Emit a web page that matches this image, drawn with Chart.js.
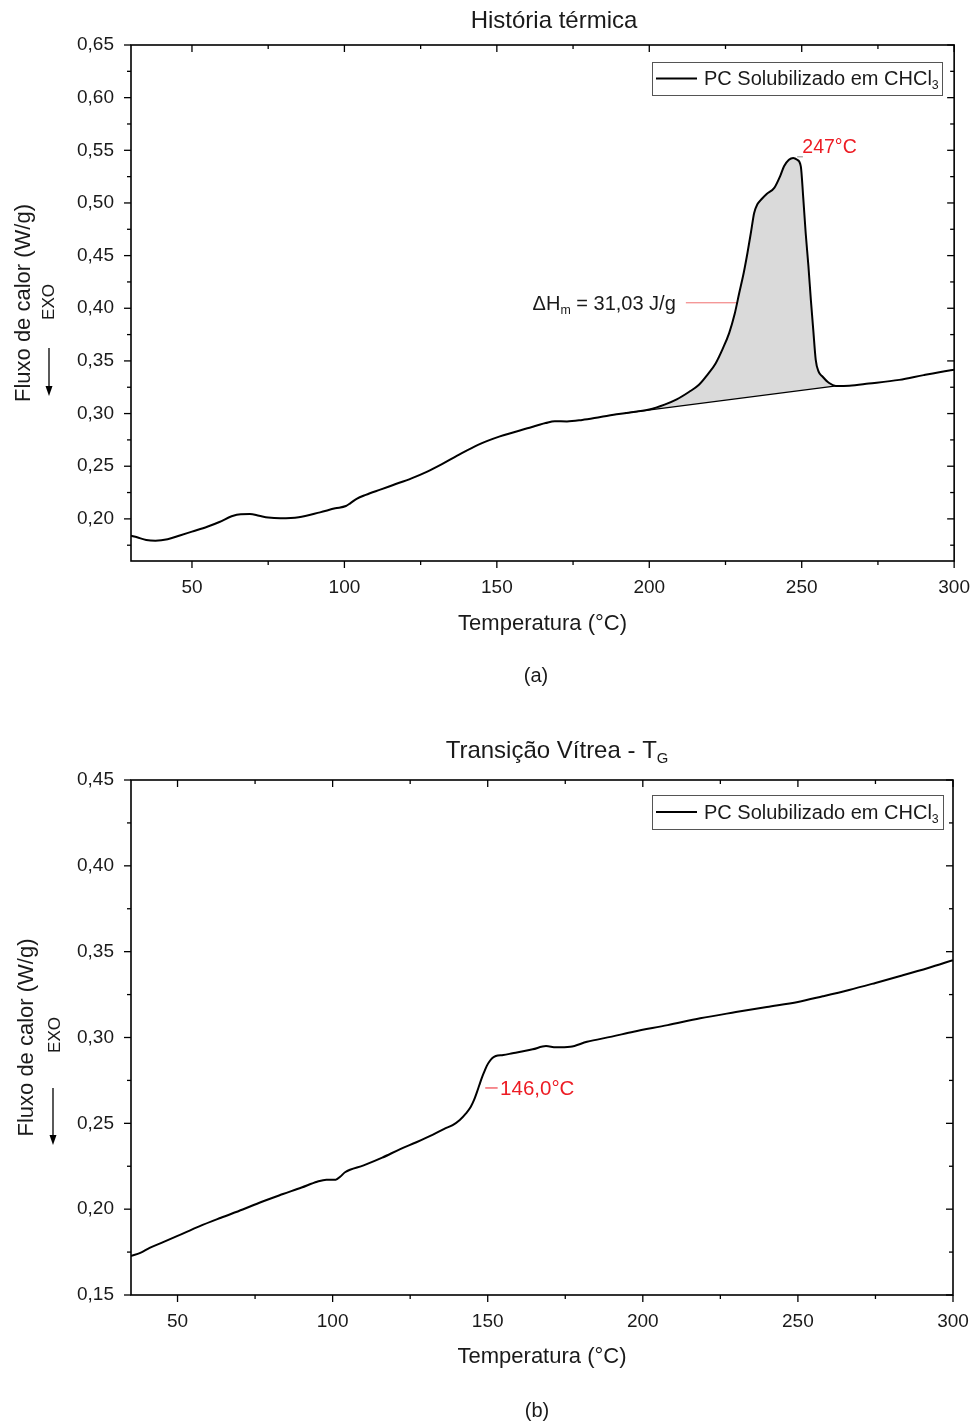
<!DOCTYPE html>
<html><head><meta charset="utf-8">
<script src="https://cdn.jsdelivr.net/npm/chart.js@4.4.0/dist/chart.umd.min.js"></script>
<style>
html,body{margin:0;padding:0;background:#fff;}
#wrap{position:relative;width:977px;height:1425px;background:#fff;}
canvas{position:absolute;left:0;}
</style></head><body>
<div id="wrap">
<canvas id="c1" width="977" height="700" style="top:0"></canvas>
<canvas id="c2" width="977" height="725" style="top:700px"></canvas>
</div>
<script>
// ---------------- DATA: (a) História térmica ----------------
const tempA = [30,32,35,38,42,46,50,55,59,63,66,69,72,75,79,85,92,97,100.5,102,104,107,112,116,122,127,132,137,144,151,160,166,169,173,178,184,190,196,200,205,209,213,216.3,219,221.8,224,226.2,228,229.5,231,232.2,233.4,234.4,235.5,236.8,238.5,241,243,244.2,245.8,247.2,248.5,249.7,250.5,251.3,252.2,253,253.8,254.6,255.5,256.8,259,261.2,265.6,272,282,290,298.4,300];
const fluxA = [0.1840,0.1825,0.1800,0.1793,0.1806,0.1842,0.1879,0.1925,0.1970,0.2025,0.2045,0.2046,0.2030,0.2013,0.2006,0.2015,0.2062,0.2100,0.2122,0.2150,0.2190,0.2228,0.2280,0.2322,0.2385,0.2447,0.2520,0.2600,0.2705,0.2783,0.2860,0.2910,0.2928,0.2925,0.2940,0.2968,0.2996,0.3020,0.3038,0.3085,0.3135,0.3205,0.3273,0.3365,0.3479,0.3610,0.3764,0.3945,0.4145,0.4340,0.4525,0.4730,0.4905,0.4990,0.5035,0.5085,0.5143,0.5260,0.5348,0.5410,0.5428,0.5410,0.5348,0.5050,0.4715,0.4400,0.4080,0.3790,0.3510,0.3400,0.3352,0.3290,0.3263,0.3265,0.3285,0.3320,0.3365,0.3409,0.3416];
const baseTempA = [192, 262];
const baseFluxA = [0.3004, 0.3266];
const dhLineTempA = [212, 240];
const dhLineFluxA = [0.4052, 0.4052];
const peakTickTempA = [248.5, 250.4];
const peakTickFluxA = [0.5438, 0.5438];
const xTicksA = [50,100,150,200,250,300];
const xTickLabelsA = ['50','100','150','200','250','300'];
const xMinorA = [75,125,175,225,275];
const yTicksA = [0.20,0.25,0.30,0.35,0.40,0.45,0.50,0.55,0.60,0.65];
const yTickLabelsA = ['0,20','0,25','0,30','0,35','0,40','0,45','0,50','0,55','0,60','0,65'];
const yMinorA = [0.175,0.225,0.275,0.325,0.375,0.425,0.475,0.525,0.575,0.625];

// ---------------- DATA: (b) Transição Vítrea ----------------
const tempB = [35,38,41,45,50,57,64,71,77,84,90,95,98,101,102.5,104,110,116,121.8,127,132.2,136,138.7,141,143,144.5,145.6,146.5,147.3,148.1,148.9,149.7,150.5,151.5,152.6,155,158,161,164.5,168.8,172,176.6,182,190,197,208,218.5,230,240,250,258,266.5,275,283,292,300];
const fluxB = [0.1727,0.1745,0.1774,0.1805,0.1844,0.1900,0.1950,0.1998,0.2042,0.2088,0.2126,0.2160,0.2172,0.2172,0.2190,0.2215,0.2255,0.2300,0.2350,0.2390,0.2433,0.2468,0.2490,0.2520,0.2558,0.2595,0.2636,0.2680,0.2723,0.2765,0.2801,0.2835,0.2859,0.2880,0.2892,0.2898,0.2908,0.2918,0.2931,0.2950,0.2943,0.2946,0.2975,0.3005,0.3034,0.3072,0.3112,0.3148,0.3178,0.3207,0.3240,0.3277,0.3318,0.3358,0.3405,0.3451];
const tgTickTempB = [149.2, 153.2];
const tgTickFluxB = [0.2706, 0.2706];
const xTicksB = [50,100,150,200,250,300];
const xTickLabelsB = ['50','100','150','200','250','300'];
const xMinorB = [75,125,175,225,275];
const yTicksB = [0.15,0.20,0.25,0.30,0.35,0.40,0.45];
const yTickLabelsB = ['0,15','0,20','0,25','0,30','0,35','0,40','0,45'];
const yMinorB = [0.175,0.225,0.275,0.325,0.375,0.425];

const seriesLabel = 'PC Solubilizado em CHCl3';
const legendParts = [{t:'PC Solubilizado em CHCl'},{t:'3',sub:true}];

const FONT = "'Liberation Sans', Arial, Helvetica, sans-serif";
const RED = '#ed1c24';
const TXT = '#1a1a1a';

function pts(xs, ys){ return xs.map((x,i)=>({x:x, y:ys[i]})); }

function richWidth(ctx, parts, size){
  let w = 0;
  for (const p of parts){ ctx.font = (p.sub ? size*0.62 : size) + 'px ' + FONT; w += ctx.measureText(p.t).width; }
  return w;
}
function drawRich(ctx, parts, x, y, size, align, color){
  const w = richWidth(ctx, parts, size);
  let cx = align === 'center' ? x - w/2 : (align === 'right' ? x - w : x);
  ctx.fillStyle = color; ctx.textBaseline = 'middle'; ctx.textAlign = 'left';
  for (const p of parts){
    const s = p.sub ? size*0.62 : size;
    ctx.font = s + 'px ' + FONT;
    ctx.fillText(p.t, cx, y + (p.sub ? size*0.32 : 0));
    cx += ctx.measureText(p.t).width;
  }
}

const deco = {
  id: 'deco',
  afterDatasetsDraw(chart, args, o){
    const ctx = chart.ctx, a = chart.chartArea, xs = chart.scales.x, ys = chart.scales.y;
    ctx.save();
    const line = (x1,y1,x2,y2)=>{ ctx.beginPath(); ctx.moveTo(x1,y1); ctx.lineTo(x2,y2); ctx.stroke(); };
    ctx.strokeStyle = '#000';
    ctx.lineWidth = 1.6;
    ctx.strokeRect(a.left, a.top, a.right-a.left, a.bottom-a.top);
    ctx.lineWidth = 1.3;
    const xt = (vals, len)=>{ for (const v of vals){ const p = xs.getPixelForValue(v); line(p, a.bottom, p, a.bottom+len); line(p, a.top, p, a.top+len); } };
    const yt = (vals, len)=>{ for (const v of vals){ const p = ys.getPixelForValue(v); line(a.left-len, p, a.left, p); line(a.right-len, p, a.right, p); } };
    xt(o.xMajor, 7); xt(o.xMinor, 4); yt(o.yMajor, 7); yt(o.yMinor, 4);

    // legend box
    const L = o.legend;
    ctx.strokeStyle = '#555'; ctx.lineWidth = 1;
    ctx.strokeRect(L.x1+0.5, L.y1+0.5, L.x2-L.x1, L.y2-L.y1);
    ctx.strokeStyle = '#000'; ctx.lineWidth = 2;
    const ly = (L.y1+L.y2)/2;
    line(L.x1+4, ly, L.x1+45, ly);
    drawRich(ctx, legendParts, L.x1+52, ly+1, 20, 'left', TXT);

    // title and caption
    drawRich(ctx, o.title.parts, o.title.x, o.title.y, 24, 'center', TXT);
    drawRich(ctx, [{t:o.caption.t}], o.caption.x, o.caption.y, 20, 'center', TXT);

    // EXO label and arrow
    const E = o.exo;
    ctx.save();
    ctx.translate(E.x, E.y); ctx.rotate(-Math.PI/2);
    ctx.font = '17px ' + FONT; ctx.fillStyle = TXT; ctx.textAlign = 'center'; ctx.textBaseline = 'middle';
    ctx.fillText('EXO', 0, 0);
    ctx.restore();
    ctx.strokeStyle = '#000'; ctx.lineWidth = 1.3;
    line(E.ax, E.ay1, E.ax, E.ay2 - 8);
    ctx.fillStyle = '#000';
    ctx.beginPath(); ctx.moveTo(E.ax-3.5, E.ay2-10); ctx.lineTo(E.ax+3.5, E.ay2-10); ctx.lineTo(E.ax, E.ay2); ctx.closePath(); ctx.fill();

    // annotations in data coordinates
    for (const t of o.texts){
      drawRich(ctx, t.parts, xs.getPixelForValue(t.x), ys.getPixelForValue(t.y), t.size, t.align, t.color);
    }
    ctx.restore();
  }
};

function axisCfg(min, max, ticks, labels, size, pad, afterFitFn, extra){
  return Object.assign({
    type: 'linear', min: min, max: max,
    grid: { display: false }, border: { display: false },
    afterBuildTicks: s => { s.ticks = ticks.map(v => ({ value: v })); },
    afterFit: afterFitFn,
    ticks: { color: TXT, font: { family: FONT, size: size }, autoSkip: false, maxRotation: 0, padding: pad,
             callback: (v, i) => labels[i] }
  }, extra);
}

// ---------- Chart (a) ----------
new Chart(document.getElementById('c1'), {
  type: 'line',
  data: { datasets: [
    { label: seriesLabel, data: pts(tempA, fluxA), borderColor: '#000', borderWidth: 2, pointRadius: 0, cubicInterpolationMode: 'monotone', fill: false },
    { label: 'linha base', data: pts(baseTempA, baseFluxA), borderColor: '#000', borderWidth: 1.3, pointRadius: 0, fill: { target: 0 }, backgroundColor: '#dadada' },
    { label: 'dH', data: pts(dhLineTempA, dhLineFluxA), borderColor: '#f07070', borderWidth: 1, pointRadius: 0, fill: false },
    { label: 'pico', data: pts(peakTickTempA, peakTickFluxA), borderColor: '#888', borderWidth: 1, pointRadius: 0, fill: false }
  ]},
  options: {
    responsive: false, animation: false, events: [],
    layout: { padding: { top: 45, right: 22, left: 0, bottom: 0 } },
    plugins: {
      legend: { display: false }, tooltip: { enabled: false }, title: { display: false },
      deco: {
        xMajor: xTicksA, xMinor: xMinorA, yMajor: yTicksA, yMinor: yMinorA,
        legend: { x1: 652, y1: 62, x2: 942, y2: 95 },
        title: { parts: [{t:'História térmica'}], x: 554, y: 21 },
        caption: { t: '(a)', x: 536, y: 676 },
        exo: { x: 49, y: 302, ax: 49, ay1: 348, ay2: 396 },
        texts: [
          { parts: [{t:'ΔH'},{t:'m',sub:true},{t:' = 31,03 J/g'}], x: 208.7, y: 0.404, size: 20, align: 'right', color: TXT },
          { parts: [{t:'247°C'}], x: 250.2, y: 0.5525, size: 19.5, align: 'left', color: RED }
        ]
      }
    },
    scales: {
      x: axisCfg(30, 300, xTicksA, xTickLabelsA, 19, 7, s => { s.height = 139; }, {
        title: { display: true, text: 'Temperatura (°C)', color: TXT, font: { family: FONT, size: 22 }, padding: { top: 0, bottom: 62.8 } }
      }),
      y: axisCfg(0.16, 0.65, yTicksA, yTickLabelsA, 19, 9, s => { s.width = 131; }, {
        title: { display: true, text: 'Fluxo de calor (W/g)', color: TXT, font: { family: FONT, size: 22 }, padding: { top: 10.8, bottom: 0 } }
      })
    }
  },
  plugins: [deco]
});

// ---------- Chart (b) ----------
new Chart(document.getElementById('c2'), {
  type: 'line',
  data: { datasets: [
    { label: seriesLabel, data: pts(tempB, fluxB), borderColor: '#000', borderWidth: 2, pointRadius: 0, cubicInterpolationMode: 'monotone', fill: false },
    { label: 'Tg', data: pts(tgTickTempB, tgTickFluxB), borderColor: RED, borderWidth: 1, pointRadius: 0, fill: false }
  ]},
  options: {
    responsive: false, animation: false, events: [],
    layout: { padding: { top: 80, right: 24, left: 0, bottom: 0 } },
    plugins: {
      legend: { display: false }, tooltip: { enabled: false }, title: { display: false },
      deco: {
        xMajor: xTicksB, xMinor: xMinorB, yMajor: yTicksB, yMinor: yMinorB,
        legend: { x1: 652, y1: 95, x2: 943, y2: 129 },
        title: { parts: [{t:'Transição Vítrea - T'},{t:'G',sub:true}], x: 557, y: 51 },
        caption: { t: '(b)', x: 537, y: 711 },
        exo: { x: 55, y: 335, ax: 53, ay1: 388, ay2: 445 },
        texts: [
          { parts: [{t:'146,0°C'}], x: 154.0, y: 0.270, size: 20.5, align: 'left', color: RED }
        ]
      }
    },
    scales: {
      x: axisCfg(35, 300, xTicksB, xTickLabelsB, 19, 7, s => { s.height = 130; }, {
        title: { display: true, text: 'Temperatura (°C)', color: TXT, font: { family: FONT, size: 22 }, padding: { top: 0, bottom: 54.8 } }
      }),
      y: axisCfg(0.15, 0.45, yTicksB, yTickLabelsB, 19, 9, s => { s.width = 131; }, {
        title: { display: true, text: 'Fluxo de calor (W/g)', color: TXT, font: { family: FONT, size: 22 }, padding: { top: 13.8, bottom: 0 } }
      })
    }
  },
  plugins: [deco]
});
</script>
</body></html>
